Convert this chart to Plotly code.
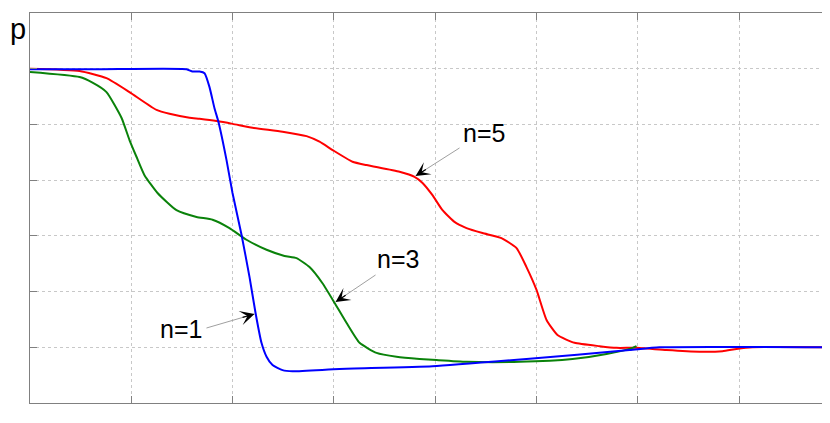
import plotly.graph_objects as go

# n=1 (blue)
x_n1 = [0, 0.686, 1.545, 1.604, 1.674, 1.723, 1.772, 1.821, 1.861, 1.940, 1.999, 2.088, 2.167, 2.226,
        2.285, 2.335, 2.394, 2.493, 2.591, 3.055, 3.973, 4.901, 5.918, 6.214, 7.9]
p_n1 = [5.99, 5.99, 5.99, 5.95, 5.95, 5.92, 5.67, 5.29, 5.04, 4.36, 3.77, 3.02, 2.26, 1.62,
        1.08, 0.83, 0.68, 0.59, 0.57, 0.61, 0.66, 0.79, 0.95, 1.00, 1.00]

# n=3 (green)
x_n3 = [0, 0.489, 0.617, 0.755, 0.903, 0.982, 1.051, 1.130, 1.259, 1.446, 1.644, 1.802, 1.969, 2.137,
        2.335, 2.512, 2.631, 2.759, 2.887, 3.006, 3.124, 3.253, 3.421, 3.618, 3.845, 4.013, 4.309,
        4.832, 5.355, 5.691, 5.948, 5.987]
p_n3 = [5.94, 5.85, 5.75, 5.58, 5.12, 4.72, 4.42, 4.09, 3.77, 3.46, 3.34, 3.29, 3.14, 2.93,
        2.75, 2.64, 2.60, 2.44, 2.15, 1.80, 1.44, 1.08, 0.90, 0.83, 0.79, 0.77, 0.74,
        0.74, 0.79, 0.88, 0.99, 1.02]

# n=5 (red)
x_n5 = [0, 0.489, 0.755, 0.982, 1.249, 1.377, 1.575, 1.673, 1.841, 1.999, 2.197, 2.493, 2.730, 2.858,
        2.987, 3.184, 3.322, 3.648, 3.796, 3.875, 3.973, 4.072, 4.190, 4.309, 4.467, 4.654, 4.803,
        4.901, 5.000, 5.099, 5.207, 5.375, 5.622, 5.790, 5.987, 6.283, 6.609, 6.836, 6.974, 7.132, 7.9]
p_n5 = [6.00, 5.96, 5.83, 5.58, 5.26, 5.19, 5.12, 5.10, 5.06, 5.01, 4.94, 4.87, 4.79, 4.69,
        4.54, 4.33, 4.27, 4.15, 4.06, 3.95, 3.73, 3.46, 3.25, 3.14, 3.05, 2.96, 2.78,
        2.44, 2.03, 1.49, 1.22, 1.08, 1.02, 0.99, 0.99, 0.95, 0.92, 0.93, 0.97, 1.00, 1.00]

fig = go.Figure()
line_kw = dict(shape="spline", smoothing=0.5)
fig.add_trace(go.Scatter(x=x_n5, y=p_n5, mode="lines", line=dict(color="#ff0000", width=2, **line_kw)))
fig.add_trace(go.Scatter(x=x_n3, y=p_n3, mode="lines", line=dict(color="#0a820a", width=2, **line_kw)))
fig.add_trace(go.Scatter(x=x_n1, y=p_n1, mode="lines", line=dict(color="#0000ff", width=2, **line_kw)))

font = dict(family="Liberation Sans, Arial", size=25, color="black")

labels = [
    # text, text x,y, shaft start x,y, tip x,y, head offset px
    ("n=5", 4.486, 4.85, 4.240, 4.578, 3.806, 4.075, 11.8, -7.5),
    ("n=3", 3.637, 2.585, 3.411, 2.298, 3.016, 1.813, 11.6, -7.8),
    ("n=1", 1.495, 1.33, 1.742, 1.346, 2.216, 1.598, -13.4, 3.9),
]
shapes = []
annotations = []
for t, tx, ty, sx, sy, ex, ey, hx, hy in labels:
    annotations.append(dict(x=tx, y=ty, xref="x", yref="y", text=t, showarrow=False,
                            font=font, xanchor="center", yanchor="middle"))
    shapes.append(dict(type="line", xref="x", yref="y", x0=sx, y0=sy, x1=ex, y1=ey,
                       line=dict(color="#a0a0a0", width=1)))
    annotations.append(dict(x=ex, y=ey, xref="x", yref="y", text="", showarrow=True,
                            ax=hx, ay=hy, arrowhead=3, arrowsize=2.0, arrowwidth=1.2,
                            arrowcolor="black"))

annotations.append(dict(x=-0.0145, y=0.96, xref="paper", yref="paper", text="p", showarrow=False,
                        font=dict(family="Liberation Sans, Arial", size=29, color="black"),
                        xanchor="center", yanchor="middle"))
annotations.append(dict(x=0.989, y=-0.035, xref="paper", yref="paper", text="<b>x</b>", showarrow=False,
                        font=dict(family="Liberation Sans, Arial", size=24, color="black"),
                        xanchor="left", yanchor="middle"))

axis_common = dict(showticklabels=False, ticks="inside", ticklen=7, tickcolor="#808080",
                   showline=True, linecolor="#808080", linewidth=1, mirror="ticks",
                   showgrid=True, gridcolor="#c8c8c8", griddash="dot", gridwidth=1,
                   zeroline=False, dtick=1, tick0=0)

fig.update_layout(
    width=822, height=415,
    margin=dict(l=22, r=0, t=5, b=20, autoexpand=False),
    paper_bgcolor="white", plot_bgcolor="white",
    showlegend=False,
    xaxis=dict(range=[0, 7.897], **axis_common),
    yaxis=dict(range=[0, 7], **axis_common),
    shapes=shapes,
    annotations=annotations,
)

fig.write_html("out.html")
